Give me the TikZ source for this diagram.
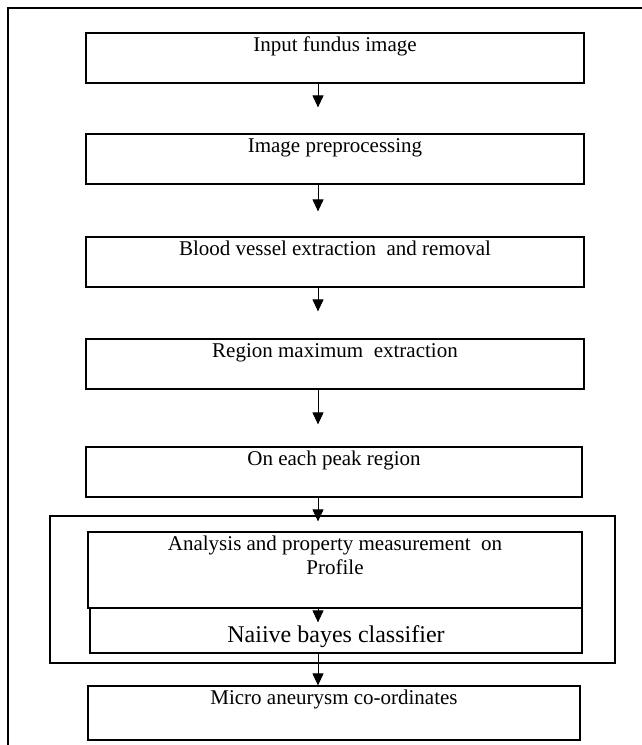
\documentclass[tikz,border=0pt]{standalone}
\usepackage{fontspec}
\setmainfont{Liberation Serif}
\usetikzlibrary{arrows.meta, positioning, calc}

\tikzset{
    stage/.style={draw, rectangle, line width=1.2pt, minimum width=498pt, minimum height=50pt,
        inner ysep=4pt, text height=14pt, text depth=28pt, font=\fontsize{21}{24}\selectfont},
    flow/.style={-{Triangle[length=12pt, width=11pt]}, line width=0.9pt},
}

\begin{document}
\begin{tikzpicture}[x=1pt, y=-1pt]
    % Page frame, cut at right and bottom
    \clip (0,0) rectangle (642,745);
    \draw[line width=1.2pt] (8,8) rectangle (700,800);
    \coordinate (spine) at (318,0);

    % Stages
    \node[stage] (fundus) at (335,58) {Input fundus image};
    \node[stage] (prep) at (335,159) {Image preprocessing};
    \node[stage] (vessel) at (335,262) {Blood vessel extraction\ \ and removal};
    \node[stage] (regmax) at (335,364) {Region maximum\ \ extraction};
    \node[stage, minimum width=496pt] (peak) at (334,472) {On each peak region};

    % Profile group
    \node[draw, line width=1.2pt, minimum width=565pt, minimum height=147pt] (grp) at (332.5,589.5) {};
    \node[stage, minimum width=494pt, minimum height=76pt, text height=38pt, text depth=30pt, align=center] (profile) at (335,570)
        {Analysis and property measurement\ \ on\\Profile};
    \node[stage, minimum width=492pt, minimum height=45pt, text height=30pt, text depth=7pt,
        font=\fontsize{24}{26}\selectfont] (bayes) at (336,630.5) {Naiive bayes classifier};

    \node[stage, minimum width=492pt, minimum height=54pt, text depth=32pt] (micro) at (334,713) {Micro aneurysm co-ordinates};

    % Arrows
    \draw[flow, shorten >=26pt] (fundus.south -| spine) -- (prep.north -| spine);
    \draw[flow, shorten >=25pt] (prep.south -| spine) -- (vessel.north -| spine);
    \draw[flow, shorten >=27pt] (vessel.south -| spine) -- (regmax.north -| spine);
    \draw[flow, shorten >=22pt] (regmax.south -| spine) -- (peak.north -| spine);
    \draw[flow, shorten >=10pt] (peak.south -| spine) -- (profile.north -| spine);
    \draw[flow] (profile.south -| spine) -- ($(bayes.north -| spine)+(0,15)$);
    \draw[flow] (bayes.south -| spine) -- (micro.north -| spine);
\end{tikzpicture}
\end{document}
